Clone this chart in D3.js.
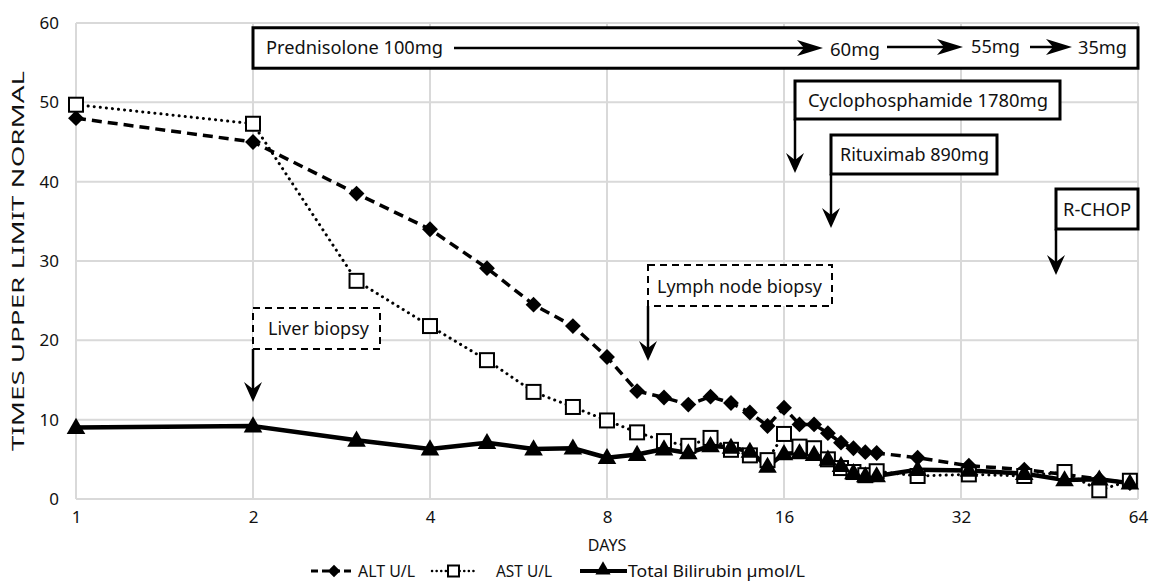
<!DOCTYPE html>
<html><head><meta charset="utf-8">
<script src="https://cdn.jsdelivr.net/npm/d3@7"></script>
<style>
html,body{margin:0;padding:0;background:#fff;}
text{font-family:"Noto Sans",Lato,sans-serif;fill:#111;}
</style></head>
<body><svg id="c" width="1149" height="582"></svg>
<script>
const days = [1,2,3,4,5,6,7,8,9,10,11,12,13,14,15,16,17,18,19,20,21,22,23,27,33,41,48,55,62];
const alt  = [48.0,45.0,38.5,34.0,29.1,24.5,21.8,17.9,13.6,12.8,11.9,12.9,12.1,10.9,9.2,11.5,9.4,9.4,8.3,7.1,6.4,5.9,5.8,5.2,4.2,3.7,3.1,2.5,2.0];
const ast  = [49.7,47.3,27.5,21.8,17.5,13.5,11.6,9.9,8.4,7.3,6.7,7.7,6.2,5.5,4.9,8.2,6.6,6.4,5.0,3.9,3.4,3.0,3.5,2.9,3.1,2.9,3.4,1.1,2.3];
const bili = [9.0,9.2,7.4,6.3,7.1,6.3,6.4,5.2,5.6,6.3,5.8,6.7,6.5,6.0,4.1,5.7,5.8,5.6,5.0,4.2,3.3,2.9,2.9,3.7,3.6,3.2,2.4,2.5,2.0];
const xTicks = [1,2,4,8,16,32,64];
const yTicks = [0,10,20,30,40,50,60];
const seriesNames = ["ALT U/L","AST U/L","Total Bilirubin \u00b5mol/L"];

const svg = d3.select("#c");
const x = d3.scaleLog().base(2).domain([1,64]).range([76,1138]);
const y = d3.scaleLinear().domain([0,60]).range([499,23]);
const FONT = "'Noto Sans', Lato, sans-serif";

// grid
const grid = svg.append("g");
grid.selectAll("line.v").data(xTicks).enter().append("line")
  .attr("x1",d=>x(d)).attr("x2",d=>x(d)).attr("y1",y(0)).attr("y2",y(60))
  .attr("stroke","#d9d9d9").attr("stroke-width",2);
grid.selectAll("line.h").data(yTicks).enter().append("line")
  .attr("x1",x(1)).attr("x2",x(64)).attr("y1",d=>y(d)).attr("y2",d=>y(d))
  .attr("stroke","#d9d9d9").attr("stroke-width",2);

// axes
const xAxis = d3.axisBottom(x).tickValues(xTicks).tickFormat(d3.format("d")).tickSize(0).tickPadding(12);
const gx = svg.append("g").attr("transform",`translate(0,${y(0)})`).call(xAxis);
gx.select(".domain").remove();
gx.selectAll("text").style("font-size","17px").style("font-family",FONT).attr("fill","#111");
const yAxis = d3.axisLeft(y).tickValues(yTicks).tickSize(0).tickPadding(17);
const gy = svg.append("g").attr("transform",`translate(${x(1)},0)`).call(yAxis);
gy.select(".domain").remove();
gy.selectAll("text").style("font-size","17px").style("font-family",FONT).attr("fill","#111");

svg.append("text").attr("x",x(8)).attr("y",551).attr("text-anchor","middle").style("font-size","16px").text("DAYS");
svg.append("text").attr("transform",`translate(24,${y(30)}) rotate(-90)`).attr("text-anchor","middle")
  .style("font-size","17px").attr("textLength",380).attr("lengthAdjust","spacingAndGlyphs").text("TIMES UPPER LIMIT NORMAL");

// annotations
const ann = svg.append("g");
function arrowDown(xp, y1, y2){
  ann.append("line").attr("x1",xp).attr("x2",xp).attr("y1",y1).attr("y2",y2-6).attr("stroke","#000").attr("stroke-width",2.5);
  ann.append("path").attr("d",`M${xp-9},${y2-20} L${xp},${y2} L${xp+9},${y2-20} L${xp},${y2-13} Z`).attr("fill","#000");
}
function arrowRight(x1, x2, yp){
  ann.append("line").attr("x1",x1).attr("x2",x2-8).attr("y1",yp).attr("y2",yp).attr("stroke","#000").attr("stroke-width",2.5);
  ann.append("path").attr("d",`M${x2-26},${yp-8} L${x2},${yp} L${x2-26},${yp+8} L${x2-19},${yp} Z`).attr("fill","#000");
}
function box(x1,y1,x2,y2,dashed){
  ann.append("rect").attr("x",x1).attr("y",y1).attr("width",x2-x1).attr("height",y2-y1)
    .attr("fill","#fff").attr("stroke","#000").attr("stroke-width",dashed?2:3)
    .attr("stroke-dasharray",dashed?"7,5":null);
}
function label(xp,yp,t,w){
  const el = ann.append("text").attr("x",xp).attr("y",yp).style("font-size","17.5px").text(t);
  if (w) el.attr("textLength",w).attr("lengthAdjust","spacingAndGlyphs");
}

// Prednisolone
const py = y(56.85);
box(x(2), y(59.4), x(64), y(54.3), false);
label(x(2)+13, py+6, "Prednisolone 100mg", 177);
arrowRight(454, 823, py);
label(830, py+8, "60mg", 50);
arrowRight(887, 963, py-1);
label(971, py+5, "55mg", 49);
arrowRight(1030, 1072, py-1);
label(1078, py+6, "35mg", 49);

// Cyclophosphamide
box(795, 81, 1060, 119, false);
label(808, 107, "Cyclophosphamide 1780mg", 240);
arrowDown(795, 119, 173);
// Rituximab
box(831, 135, 997, 174, false);
label(840, 161, "Rituximab 890mg", 149);
arrowDown(831, 174, 228);
// R-CHOP
box(1056, 189, 1138, 229, false);
label(1063, 216, "R-CHOP", 68);
arrowDown(1056, 229, 275);
// Liver biopsy
box(x(2), 308, 380, 349, true);
label(x(2)+15, 335, "Liver biopsy", 101);
arrowDown(x(2), 349, 402);
// Lymph node biopsy
box(648, 265, 832, 306, true);
label(657, 293, "Lymph node biopsy", 165);
arrowDown(648, 306, 361);

// lines
const mk = arr => days.map((d,i)=>[d,arr[i]]);
const line = d3.line().x(d=>x(d[0])).y(d=>y(d[1]));
const lines = svg.append("g");
lines.append("path").datum(mk(bili)).attr("d",line).attr("fill","none").attr("stroke","#000").attr("stroke-width",4.5).attr("stroke-linejoin","round");
lines.append("path").datum(mk(ast)).attr("d",line).attr("fill","none").attr("stroke","#000").attr("stroke-width",3).attr("stroke-dasharray","0.1,6").attr("stroke-linecap","round");
lines.append("path").datum(mk(alt)).attr("d",line).attr("fill","none").attr("stroke","#000").attr("stroke-width",3.5).attr("stroke-dasharray","10,6");

// markers
const diamond = d3.symbol().type(d3.symbolDiamond2).size(160);
const tri = d3.symbol().type(d3.symbolTriangle).size(150);
const mg = svg.append("g");
mg.selectAll("path.alt").data(mk(alt)).enter().append("path").attr("d",diamond)
  .attr("transform",d=>`translate(${x(d[0])},${y(d[1])})`).attr("fill","#000");
mg.selectAll("rect.ast").data(mk(ast)).enter().append("rect")
  .attr("x",d=>x(d[0])-7).attr("y",d=>y(d[1])-7).attr("width",14).attr("height",14)
  .attr("fill","#fff").attr("stroke","#000").attr("stroke-width",2);
mg.selectAll("path.bili").data(mk(bili)).enter().append("path").attr("d",tri)
  .attr("transform",d=>`translate(${x(d[0])},${y(d[1])+1})`).attr("fill","#000");

// legend
const lg = svg.append("g").attr("transform","translate(0,571)");
lg.append("line").attr("x1",311).attr("x2",355).attr("y1",0).attr("y2",0).attr("stroke","#000").attr("stroke-width",3).attr("stroke-dasharray","7,4");
lg.append("path").attr("d",d3.symbol().type(d3.symbolDiamond2).size(100)).attr("transform","translate(334,0)").attr("fill","#000");
lg.append("text").attr("x",358).attr("y",5.5).style("font-size","15.5px").attr("textLength",57).attr("lengthAdjust","spacingAndGlyphs").text(seriesNames[0]);
lg.append("line").attr("x1",432).attr("x2",476).attr("y1",0).attr("y2",0).attr("stroke","#000").attr("stroke-width",2.5).attr("stroke-dasharray","0.1,4.5").attr("stroke-linecap","round");
lg.append("rect").attr("x",448).attr("y",-5.5).attr("width",11).attr("height",11).attr("fill","#fff").attr("stroke","#000").attr("stroke-width",2);
lg.append("text").attr("x",496).attr("y",5.5).style("font-size","15.5px").attr("textLength",56).attr("lengthAdjust","spacingAndGlyphs").text(seriesNames[1]);
lg.append("line").attr("x1",580).attr("x2",627).attr("y1",0).attr("y2",0).attr("stroke","#000").attr("stroke-width",4);
lg.append("path").attr("d",d3.symbol().type(d3.symbolTriangle).size(100)).attr("transform","translate(603,-1)").attr("fill","#000");
lg.append("text").attr("x",628).attr("y",5.5).style("font-size","15.5px").attr("textLength",177).attr("lengthAdjust","spacingAndGlyphs").text(seriesNames[2]);
</script></body></html>
